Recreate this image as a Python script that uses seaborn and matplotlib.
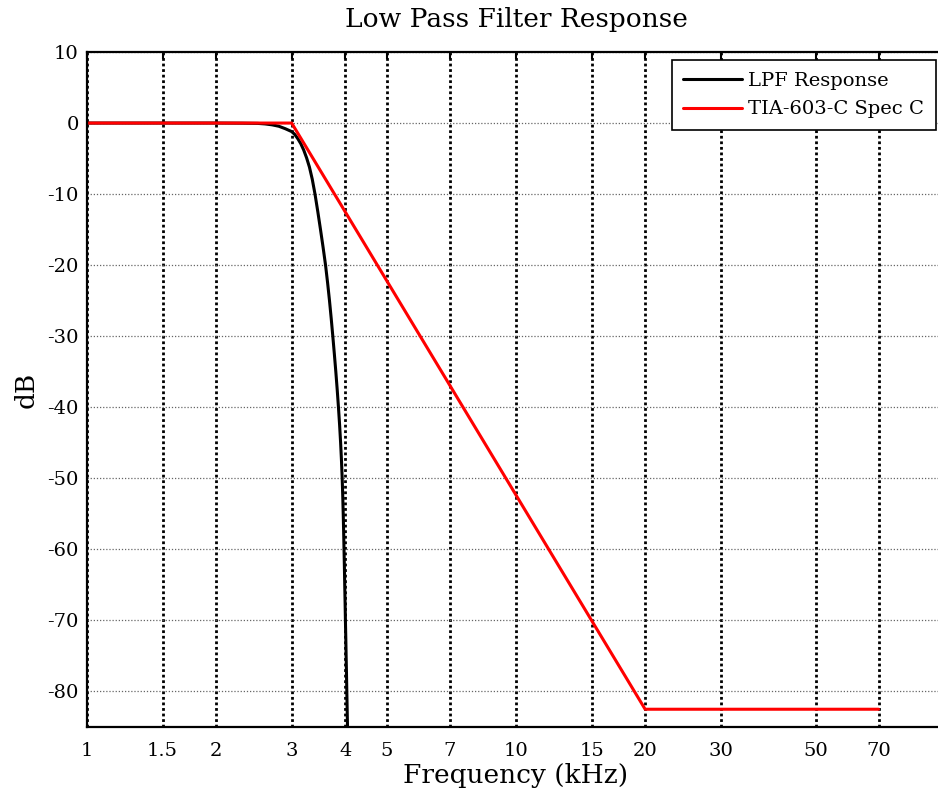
import matplotlib
matplotlib.use("Agg")
import matplotlib.pyplot as plt
import seaborn as sns
import pandas as pd
from matplotlib.ticker import FixedLocator, FixedFormatter, NullLocator

# ---- data ----
lpf_freq = [1.0, 1.5, 2.0, 2.3, 2.5, 2.6, 2.7, 2.8, 2.9, 3.0, 3.05, 3.1, 3.15, 3.2,
            3.25, 3.3, 3.35, 3.4, 3.452, 3.502, 3.551, 3.598, 3.638, 3.675, 3.709,
            3.741, 3.772, 3.802, 3.830, 3.856, 3.880, 3.901, 3.919, 3.934, 3.946,
            3.956, 3.965, 3.973, 3.981, 3.988, 3.996, 4.003, 4.011, 4.018, 4.026,
            4.033, 4.048, 4.063]
lpf_db = [0.0, 0.0, 0.0, -0.02, -0.05, -0.12, -0.25, -0.45, -0.8, -1.2, -1.6, -2.2,
          -2.9, -3.8, -4.9, -6.2, -7.9, -10.0, -12.5, -15.0, -17.5, -20.0, -22.5,
          -25.0, -27.5, -30.0, -32.5, -35.0, -37.5, -40.0, -42.5, -45.0, -47.5,
          -50.0, -52.5, -55.0, -57.5, -60.0, -62.5, -65.0, -67.5, -70.0, -72.5,
          -75.0, -77.5, -80.0, -85.0, -90.0]
spec_freq = [1.0, 3.0, 20.0, 70.0]
spec_db = [0.0, 0.0, -82.5, -82.5]
series_names = ["LPF Response", "TIA-603-C Spec C"]
series_colors = ["black", "red"]
xticks = [1, 1.5, 2, 3, 4, 5, 7, 10, 15, 20, 30, 50, 70]
xtick_labels = ["1", "1.5", "2", "3", "4", "5", "7", "10", "15", "20", "30", "50", "70"]
yticks = [-80, -70, -60, -50, -40, -30, -20, -10, 0, 10]

df = pd.concat([
    pd.DataFrame({"freq": lpf_freq, "db": lpf_db, "series": series_names[0]}),
    pd.DataFrame({"freq": spec_freq, "db": spec_db, "series": series_names[1]}),
], ignore_index=True)

sns.set_style("white")
plt.rcParams["font.family"] = ["DejaVu Serif"]
plt.rcParams["text.color"] = "black"
plt.rcParams["axes.labelcolor"] = "black"

fig = plt.figure(figsize=(9.38, 7.98), dpi=100)
ax = fig.add_axes([87 / 938, 71 / 798, 858 / 938, 675 / 798])

sns.lineplot(data=df, x="freq", y="db", hue="series", hue_order=series_names,
             palette=dict(zip(series_names, series_colors)), estimator=None,
             sort=True, linewidth=2.2, ax=ax)

ax.set_xscale("log")
ax.set_xlim(1, 100)
ax.set_ylim(-85, 10)
ax.xaxis.set_major_locator(FixedLocator(xticks))
ax.xaxis.set_major_formatter(FixedFormatter(xtick_labels))
ax.xaxis.set_minor_locator(NullLocator())
ax.set_yticks(yticks)
ax.set_yticklabels([str(v) for v in yticks])

ax.tick_params(axis="both", which="major", direction="in", length=5, width=1.5,
               top=True, right=True, labelsize=14, colors="black")
ax.tick_params(axis="x", pad=11)
ax.tick_params(axis="y", pad=6)

# grid: vertical bold dotted, horizontal thin dotted
for xv in xticks:
    ax.axvline(xv, color="black", linestyle=(0, (1, 1)), linewidth=2.0, zorder=0.5)
ax.yaxis.grid(True, color="#666666", linestyle=(0, (1, 1.5)), linewidth=0.9)
ax.set_axisbelow(True)

for s in ax.spines.values():
    s.set_color("black")
    s.set_linewidth(1.6)
    s.set_visible(True)

ax.set_title("Low Pass Filter Response", fontsize=19, pad=18, color="black")
ax.set_xlabel("Frequency (kHz)", fontsize=19, labelpad=2)
ax.set_ylabel("dB", fontsize=19, labelpad=6)

leg = ax.legend(loc="upper right", bbox_to_anchor=((936 - 87) / 858, 1 - 8 / 675),
                fontsize=14, frameon=True, fancybox=False, handlelength=3.0,
                borderaxespad=0, handletextpad=0.35, borderpad=0.6, labelspacing=0.55)
leg.get_frame().set_edgecolor("black")
leg.get_frame().set_linewidth(1.2)
leg.get_frame().set_alpha(1)
leg.set_title(None)

fig.savefig("out.png", dpi=100)
